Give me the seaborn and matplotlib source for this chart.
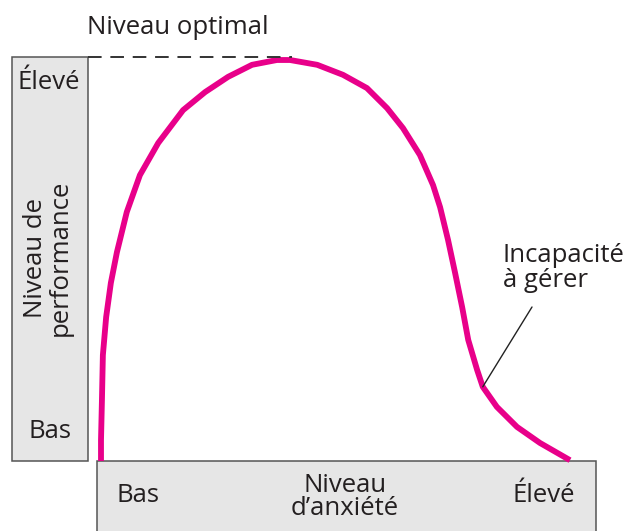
import matplotlib
matplotlib.use("Agg")
import matplotlib.pyplot as plt
from matplotlib.patches import Rectangle
from matplotlib.lines import Line2D
import seaborn as sns
import pandas as pd

# ---- data ----
anxiety = [0, 0, 0.2, 0.4, 1.1, 2.1, 3.4, 5.5, 8.3, 12.2, 17.5,
           22.2, 27.1, 32.2, 37.5, 40.3, 46.1, 51.6, 56.7, 61.0, 64.4, 68.0, 70.8,
           72.3, 74.0, 75.5, 77.0, 78.3, 80.2, 81.4, 84.4, 88.7, 93.6, 100]
performance = [0, 5.2, 15.2, 26.4, 35.9, 44.4, 52.1, 62.1, 71.3, 79.3, 87.5,
               92.0, 95.8, 98.8, 100, 100, 98.8, 96.3, 93.0, 88.0, 83.0,
               76.3, 68.8, 63.3, 55.1, 46.9, 38.4, 30.2, 22.7, 18.5, 13.5, 8.5, 4.5, 0.2]
annot_point = (81.4, 18.5)
y_labels = ["Bas", "Élevé"]
x_labels = ["Bas", "Élevé"]
y_title = "Niveau de\nperformance"
x_title = "Niveau\nd\u2019anxiété"
top_label = "Niveau optimal"
annot_label = "Incapacité\nà gérer"

df = pd.DataFrame({"anxiety": anxiety, "performance": performance})

sns.set_theme(style="white")
plt.rcParams["font.family"] = ["Open Sans", "DejaVu Sans"]

W, H = 634, 531
fig = plt.figure(figsize=(W / 100, H / 100), dpi=100)

def fx(px):
    return px / W

def fy(py):
    return 1 - py / H

ax = fig.add_axes([fx(101), fy(461), fx(570) - fx(101), fy(60) - fy(461)])
ax.set_xlim(0, 100)
ax.set_ylim(0, 100)
ax.axis("off")

TXT = "#231f20"
MAG = "#e8008a"
BOX = "#e6e6e6"
EDGE = "#555555"

# boxes
fig.add_artist(Rectangle((fx(12), fy(461)), fx(88) - fx(12), fy(57) - fy(461),
                         transform=fig.transFigure, facecolor=BOX, edgecolor=EDGE,
                         linewidth=1.1, zorder=0))
fig.add_artist(Rectangle((fx(97), fy(540)), fx(596) - fx(97), fy(461) - fy(540),
                         transform=fig.transFigure, facecolor=BOX, edgecolor=EDGE,
                         linewidth=1.1, zorder=0))

# dashed optimal line
fig.add_artist(Line2D([fx(88), fx(292)], [fy(57), fy(57)], transform=fig.transFigure,
                      color="#333333", linewidth=1.4, linestyle=(0, (7, 4.5)), zorder=1))

# curve
sns.lineplot(data=df, x="anxiety", y="performance", sort=False, estimator=None,
             color=MAG, linewidth=4.2, ax=ax, clip_on=False, zorder=3)
for l in ax.lines:
    l.set_solid_capstyle("butt")
    l.set_solid_joinstyle("round")
ax.set_xlabel("")
ax.set_ylabel("")

# annotation line
ax.annotate("", xy=annot_point, xycoords="data",
            xytext=(fx(532), fy(307)), textcoords="figure fraction",
            arrowprops=dict(arrowstyle="-", color="#222222", linewidth=1.0,
                            shrinkA=0, shrinkB=0), annotation_clip=False)

fs = 18.5
fig.text(fx(87), fy(27), top_label, ha="left", va="center", fontsize=fs, color=TXT)
fig.text(fx(49), fy(82), y_labels[1], ha="center", va="center", fontsize=fs, color=TXT)
fig.text(fx(50), fy(432), y_labels[0], ha="center", va="center", fontsize=fs, color=TXT)
fig.text(fx(48), fy(258), y_title, ha="center", va="center", fontsize=fs, color=TXT,
         rotation=90, linespacing=0.95)
fig.text(fx(138), fy(496), x_labels[0], ha="center", va="center", fontsize=fs, color=TXT)
fig.text(fx(544), fy(496), x_labels[1], ha="center", va="center", fontsize=fs, color=TXT)
fig.text(fx(345), fy(497), x_title, ha="center", va="center", fontsize=fs, color=TXT,
         linespacing=0.85)
fig.text(fx(503), fy(268), annot_label, ha="left", va="center", fontsize=fs, color=TXT,
         linespacing=0.95)

fig.savefig("out.png", dpi=100)
